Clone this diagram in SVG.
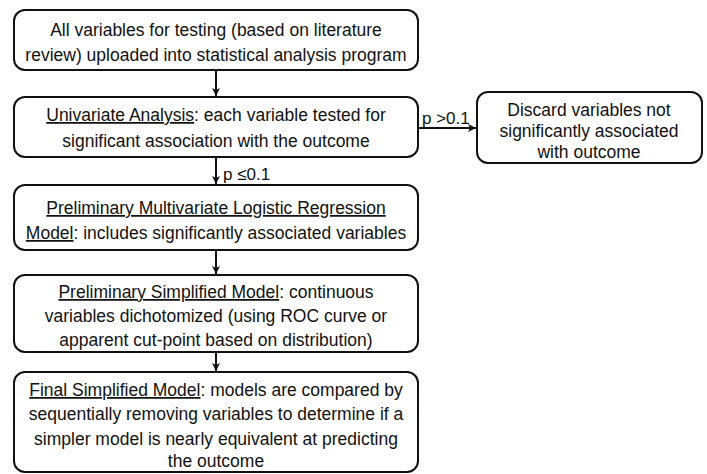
<svg xmlns="http://www.w3.org/2000/svg" width="707" height="474" viewBox="0 0 707 474">
<defs>
<marker id="ah" markerWidth="10" markerHeight="10" refX="9" refY="5" orient="auto" markerUnits="userSpaceOnUse">
<path d="M1,1 L9,5 L1,9 L3,5 Z" fill="#111"/>
</marker>
</defs>
<style>
.box{fill:#fff;stroke:#111;stroke-width:2}
.t{font-family:"Liberation Sans",Arial,sans-serif;font-size:17.5px;fill:#111;text-anchor:middle}
.u{text-decoration:underline}
.c{stroke:#111;stroke-width:2;fill:none;marker-end:url(#ah)}
.l{font-family:"Liberation Sans",Arial,sans-serif;font-size:17px;fill:#111}
</style>
<rect width="707" height="474" fill="#fff"/>
<g id="connectors">
<line class="c" x1="216" y1="70" x2="216" y2="96"/>
<line class="c" x1="216" y1="157" x2="216" y2="184"/>
<line class="c" x1="216" y1="250" x2="216" y2="274"/>
<line class="c" x1="216" y1="352" x2="216" y2="371"/>
<line class="c" x1="418" y1="128" x2="476" y2="128"/>
<text class="l" x="422" y="124">p &gt;0.1</text>
<text class="l" x="223" y="180">p ≤0.1</text>
</g>
<g id="n1">
<rect class="box" x="14" y="10" width="404" height="60" rx="11"/>
<text class="t" x="216" y="36">All variables for testing (based on literature</text>
<text class="t" x="216" y="61">review) uploaded into statistical analysis program</text>
</g>
<g id="n2">
<rect class="box" x="14" y="97" width="404" height="60" rx="11"/>
<text class="t" x="216" y="121"><tspan class="u">Univariate Analysis</tspan>: each variable tested for</text>
<text class="t" x="216" y="147">significant association with the outcome</text>
</g>
<g id="n3">
<rect class="box" x="477" y="92" width="225" height="71" rx="11"/>
<text class="t" x="589" y="116">Discard variables not</text>
<text class="t" x="589" y="137">significantly associated</text>
<text class="t" x="589" y="158">with outcome</text>
</g>
<g id="n4">
<rect class="box" x="14" y="185" width="404" height="65" rx="11"/>
<text class="t" x="216" y="214"><tspan class="u">Preliminary Multivariate Logistic Regression</tspan></text>
<text class="t" x="216" y="239"><tspan class="u">Model</tspan>: includes significantly associated variables</text>
</g>
<g id="n5">
<rect class="box" x="14" y="275" width="404" height="77" rx="11"/>
<text class="t" x="216" y="298"><tspan class="u">Preliminary Simplified Model</tspan>: continuous</text>
<text class="t" x="216" y="322">variables dichotomized (using ROC curve or</text>
<text class="t" x="216" y="346">apparent cut-point based on distribution)</text>
</g>
<g id="n6">
<rect class="box" x="14" y="372" width="404" height="100" rx="11"/>
<text class="t" x="216" y="396"><tspan class="u">Final Simplified Model</tspan>: models are compared by</text>
<text class="t" x="216" y="420">sequentially removing variables to determine if a</text>
<text class="t" x="216" y="445">simpler model is nearly equivalent at predicting</text>
<text class="t" x="216" y="467">the outcome</text>
</g>
</svg>
